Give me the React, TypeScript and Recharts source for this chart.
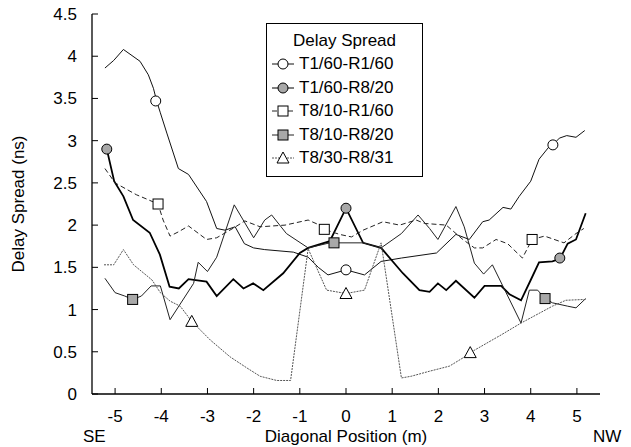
import React from 'react';
import { ComposedChart, Line, Scatter, XAxis, YAxis, Legend } from 'recharts';

const FONT = '"Liberation Sans", Arial, Helvetica, sans-serif';

const xTicks = [-5, -4, -3, -2, -1, 0, 1, 2, 3, 4, 5];
const yTicks = [0, 0.5, 1, 1.5, 2, 2.5, 3, 3.5, 4, 4.5];

const seriesNames = ['T1/60-R1/60', 'T1/60-R8/20', 'T8/10-R1/60', 'T8/10-R8/20', 'T8/30-R8/31'];

// [diagonal position (m), delay spread (ns)] read at the visible vertices
const t1r1 = [
  [-5.22, 3.86], [-5.03, 3.95], [-4.82, 4.08], [-4.46, 3.94], [-4.28, 3.78], [-4.17, 3.62],
  [-4.1, 3.47], [-4.02, 3.33], [-3.88, 3.09], [-3.63, 2.67], [-3.41, 2.6], [-3.02, 2.28],
  [-2.8, 1.96], [-2.62, 1.94], [-2.4, 1.98], [-2.2, 1.78], [-2.0, 1.73], [-1.76, 1.71],
  [-1.14, 1.68], [-0.82, 1.62], [-0.6, 1.5], [-0.39, 1.41], [0, 1.47], [0.4, 1.41],
  [0.76, 1.57], [1.2, 1.61], [1.96, 1.67], [2.38, 1.89], [2.67, 1.83], [2.96, 2.04],
  [3.1, 2.06], [3.4, 2.21], [3.57, 2.19], [3.75, 2.34], [4.0, 2.52], [4.18, 2.78],
  [4.4, 2.93], [4.48, 2.95], [4.62, 3.03], [4.78, 3.06], [4.98, 3.04], [5.17, 3.12],
];
const t1r8 = [
  [-5.18, 2.9], [-5.02, 2.52], [-4.82, 2.34], [-4.61, 2.06], [-4.25, 1.91], [-4.03, 1.65],
  [-3.82, 1.27], [-3.62, 1.25], [-3.41, 1.36], [-3.02, 1.33], [-2.8, 1.16], [-2.44, 1.36],
  [-2.22, 1.25], [-2.01, 1.31], [-1.79, 1.23], [-1.36, 1.43], [-1.0, 1.67], [-0.82, 1.73],
  [-0.35, 1.81], [0, 2.2], [0.37, 1.79], [0.76, 1.73], [1.23, 1.43], [1.59, 1.23],
  [1.81, 1.21], [1.99, 1.31], [2.17, 1.23], [2.38, 1.34], [2.78, 1.14], [3.0, 1.28],
  [3.36, 1.28], [3.54, 1.18], [3.79, 1.11], [4.0, 1.35], [4.18, 1.56], [4.47, 1.57],
  [4.63, 1.6], [4.8, 1.78], [4.98, 1.83], [5.19, 2.14],
];
const t8r1 = [
  [-5.22, 2.67], [-5.0, 2.5], [-4.54, 2.36], [-4.28, 2.3], [-4.07, 2.25], [-3.96, 2.06],
  [-3.81, 1.87], [-3.63, 1.92], [-3.41, 1.99], [-3.02, 1.83], [-2.8, 1.85], [-2.42, 1.97],
  [-2.19, 2.05], [-1.86, 1.98], [-1.32, 2.0], [-0.82, 2.06], [-0.57, 2.0], [-0.47, 1.95],
  [-0.14, 1.89], [0.12, 1.86], [0.37, 1.94], [0.8, 2.04], [1.16, 2.0], [1.52, 2.06],
  [1.7, 2.02], [2.17, 2.0], [2.53, 1.83], [2.78, 1.73], [2.96, 1.73], [3.25, 1.83],
  [3.5, 1.78], [3.82, 1.61], [4.03, 1.83], [4.3, 1.87], [4.72, 1.79], [4.98, 1.9],
  [5.15, 1.96],
];
const t8r8 = [
  [-5.22, 1.37], [-5.0, 1.2], [-4.79, 1.16], [-4.62, 1.12], [-4.43, 1.16], [-4.22, 1.28],
  [-4.02, 1.28], [-3.81, 0.88], [-3.3, 1.31], [-3.2, 1.56], [-3.0, 1.45], [-2.8, 1.62],
  [-2.42, 2.24], [-2.0, 1.85], [-1.76, 2.06], [-1.61, 2.12], [-1.29, 1.9], [-0.82, 1.73],
  [-0.35, 1.79], [-0.26, 1.79], [0.37, 1.79], [0.76, 1.73], [1.2, 1.9], [1.56, 2.12],
  [1.81, 1.96], [1.99, 1.83], [2.38, 2.22], [2.56, 1.98], [2.78, 1.55], [2.98, 1.42],
  [3.17, 1.53], [3.79, 0.84], [3.97, 1.23], [4.15, 1.23], [4.31, 1.13], [4.47, 1.08],
  [4.8, 1.04], [4.98, 1.02], [5.19, 1.13],
];
const t8r8b = [
  [-5.24, 1.53], [-5.03, 1.53], [-4.82, 1.71], [-4.6, 1.53], [-4.2, 1.35], [-4.02, 1.2],
  [-3.81, 1.1], [-3.59, 1.04], [-3.34, 0.86], [-2.94, 0.64], [-2.51, 0.44], [-2.15, 0.31],
  [-1.86, 0.21], [-1.5, 0.16], [-1.2, 0.16], [-0.82, 1.72], [-0.42, 1.23], [0, 1.19],
  [0.4, 1.23], [0.76, 1.79], [1.2, 0.19], [1.41, 0.21], [1.81, 0.27], [2.24, 0.33],
  [2.6, 0.45], [2.69, 0.49], [3.36, 0.7], [3.79, 0.84], [4.47, 1.04], [4.76, 1.11],
  [5.19, 1.12],
];

// symbol positions along each curve
const t1r1Marks = [[-4.12, 3.47], [0, 1.47], [4.48, 2.95]];
const t1r8Marks = [[-5.18, 2.9], [0, 2.2], [4.63, 1.61]];
const t8r1Marks = [[-4.07, 2.25], [-0.47, 1.95], [4.03, 1.83]];
const t8r8Marks = [[-4.62, 1.12], [-0.26, 1.79], [4.31, 1.13]];
const t8r8bMarks = [[-3.34, 0.86], [0, 1.19], [2.69, 0.49]];

const toPts = (rows: number[][]) => rows.map(([x, y]) => ({ x, y }));

const curves = [t1r1, t1r8, t8r1, t8r8, t8r8b];
const marks = [t1r1Marks, t1r8Marks, t8r1Marks, t8r8Marks, t8r8bMarks];

const looks = [
  { stroke: '#111', width: 1, dash: undefined, shape: 'circle', fill: '#fff' },
  { stroke: '#000', width: 1.8, dash: undefined, shape: 'circle', fill: '#a8a8a8' },
  { stroke: '#222', width: 1, dash: '5 3', shape: 'square', fill: '#fff' },
  { stroke: '#222', width: 1, dash: undefined, shape: 'square', fill: '#a8a8a8' },
  { stroke: '#555', width: 1, dash: '2 1', shape: 'triangle', fill: '#fff' },
];

const drawMarker = (shape: string, cx: number, cy: number, fill: string) => {
  if (shape === 'circle') {
    return <circle cx={cx} cy={cy} r={5} fill={fill} stroke="#000" strokeWidth={1} />;
  }
  if (shape === 'square') {
    return <rect x={cx - 5} y={cy - 5} width={10} height={10} fill={fill} stroke="#000" strokeWidth={1} />;
  }
  return (
    <polygon
      points={`${cx},${cy - 6} ${cx - 6},${cy + 5} ${cx + 6},${cy + 5}`}
      fill={fill}
      stroke="#000"
      strokeWidth={1}
    />
  );
};

const TICK = 6;
const X_GAP = 17;
const Y_GAP = 15;

// inward tick marks drawn by hand, since the frame has ticks on all four sides
const BottomTick = (p: any) => (
  <g>
    <line x1={p.x} x2={p.x} y1={p.y - X_GAP} y2={p.y - X_GAP - TICK} stroke="#000" />
    <text x={p.x} y={p.y + 11} textAnchor="middle" fontFamily={FONT} fontSize={17} fill="#000">
      {p.payload.value}
    </text>
  </g>
);
const TopTick = (p: any) => <line x1={p.x} x2={p.x} y1={p.y} y2={p.y + TICK} stroke="#000" />;
const LeftTick = (p: any) => (
  <g>
    <line x1={p.x + Y_GAP} x2={p.x + Y_GAP + TICK} y1={p.y} y2={p.y} stroke="#000" />
    <text x={p.x} y={p.y + 6} textAnchor="end" fontFamily={FONT} fontSize={17} fill="#000">
      {p.payload.value}
    </text>
  </g>
);
const RightTick = (p: any) => <line x1={p.x} x2={p.x - TICK} y1={p.y} y2={p.y} stroke="#000" />;

const LegendBox = () => (
  <div
    style={{
      position: 'relative',
      width: 157,
      height: 154,
      border: '1px solid #000',
      boxSizing: 'border-box',
      background: '#fff',
      fontFamily: FONT,
      fontSize: 17,
      color: '#000',
    }}
  >
    <div style={{ position: 'absolute', top: 7, left: 0, right: 0, textAlign: 'center', lineHeight: '20px' }}>
      Delay Spread
    </div>
    {seriesNames.map((name, i) => (
      <div
        key={name}
        style={{
          position: 'absolute',
          left: 5,
          top: 30 + i * 23.5,
          height: 20,
          display: 'flex',
          alignItems: 'center',
          whiteSpace: 'nowrap',
        }}
      >
        <svg width={22} height={14}>
          <line x1={0} x2={22} y1={7} y2={7} stroke={looks[i].stroke} strokeWidth={1} strokeDasharray={looks[i].dash} />
          {drawMarker(looks[i].shape, 11, 7, looks[i].fill)}
        </svg>
        <span style={{ marginLeft: 5 }}>{name}</span>
      </div>
    ))}
  </div>
);

const frame = { stroke: '#000', strokeWidth: 1.3 };

export default function App() {
  return (
    <div style={{ position: 'absolute', left: 0, top: 0, background: '#fff' }}>
      <ComposedChart width={631} height={447} margin={{ top: 14, right: 31, bottom: 23, left: 8 }}>
        <XAxis
          dataKey="x"
          type="number"
          domain={[-5.5, 5.5]}
          allowDataOverflow
          ticks={xTicks}
          interval={0}
          height={30}
          tickSize={0}
          tickMargin={X_GAP}
          tickLine={false}
          tick={BottomTick}
          axisLine={frame}
          label={{
            content: (p: any) => {
              const vb = p.viewBox;
              const base = vb.y + 48;
              return (
                <g fontFamily={FONT} fontSize={17} fill="#000">
                  <text x={vb.x - 9} y={base}>SE</text>
                  <text x={vb.x + vb.width / 2} y={base} textAnchor="middle">Diagonal Position (m)</text>
                  <text x={vb.x + vb.width - 7} y={base}>NW</text>
                </g>
              );
            },
          }}
        />
        <XAxis
          xAxisId="top"
          orientation="top"
          type="number"
          domain={[-5.5, 5.5]}
          allowDataOverflow
          ticks={xTicks}
          interval={0}
          height={0}
          tickSize={0}
          tickMargin={0}
          tickLine={false}
          tick={TopTick}
          axisLine={frame}
        />
        <YAxis
          type="number"
          domain={[0, 4.5]}
          allowDataOverflow
          ticks={yTicks}
          interval={0}
          width={84}
          tickSize={0}
          tickMargin={Y_GAP}
          tickLine={false}
          tick={LeftTick}
          axisLine={frame}
          label={{
            content: (p: any) => {
              const vb = p.viewBox;
              const cx = vb.x + 10;
              const cy = vb.y + vb.height / 2;
              return (
                <text
                  x={cx}
                  y={cy}
                  transform={`rotate(-90 ${cx} ${cy})`}
                  textAnchor="middle"
                  dominantBaseline="central"
                  fontFamily={FONT}
                  fontSize={17}
                  fill="#000"
                >
                  Delay Spread (ns)
                </text>
              );
            },
          }}
        />
        <YAxis
          yAxisId="r"
          orientation="right"
          type="number"
          domain={[0, 4.5]}
          allowDataOverflow
          ticks={yTicks}
          interval={0}
          width={0}
          tickSize={0}
          tickMargin={0}
          tickLine={false}
          tick={RightTick}
          axisLine={frame}
        />
        {curves.map((c, i) => (
          <Line
            key={`line-${i}`}
            data={toPts(c)}
            dataKey="y"
            type="linear"
            stroke={looks[i].stroke}
            strokeWidth={looks[i].width}
            strokeDasharray={looks[i].dash}
            dot={false}
            activeDot={false}
            isAnimationActive={false}
          />
        ))}
        {marks.map((m, i) => (
          <Scatter
            key={`mark-${i}`}
            data={toPts(m)}
            dataKey="y"
            isAnimationActive={false}
            shape={(p: any) => drawMarker(looks[i].shape, p.cx, p.cy, looks[i].fill)}
          />
        ))}
        <Legend
          layout="vertical"
          align="center"
          verticalAlign="middle"
          wrapperStyle={{ left: 266, top: 23, width: 157 }}
          content={() => <LegendBox />}
        />
      </ComposedChart>
    </div>
  );
}
